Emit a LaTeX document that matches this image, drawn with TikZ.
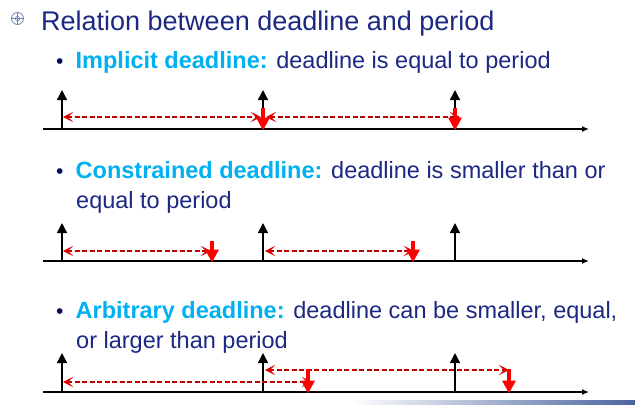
\documentclass[tikz,border=0pt]{standalone}
\usepackage{fontspec}
\setmainfont{Liberation Sans}
\usetikzlibrary{arrows.meta}
\definecolor{navy}{RGB}{28,40,130}
\definecolor{bulnavy}{RGB}{10,10,90}
\definecolor{cyanhl}{RGB}{0,176,240}
\definecolor{dred}{RGB}{192,0,0}
\definecolor{bred}{RGB}{255,0,0}
\definecolor{barblue}{RGB}{74,100,160}
\definecolor{iconblue}{RGB}{110,130,185}
\tikzset{
 txt/.style={inner sep=0pt, anchor=base west, text=navy, font=\fontsize{23.5}{30}\selectfont},
 ttl/.style={inner sep=0pt, anchor=base west, text=navy, font=\fontsize{27}{32}\selectfont},
 bul/.style={inner sep=0pt, anchor=base, text=bulnavy, font=\fontsize{21}{30}\selectfont},
 axisline/.style={line width=1.3pt, -{Latex[length=7pt,width=6pt]}},
 rel/.style={line width=1.4pt, -{Triangle[length=10pt,width=10pt]}},
 dl/.style={line width=3.5pt, bred, -{Triangle[length=13pt,width=13pt]}},
 spanarrow/.style={line width=2pt, dred, dash pattern=on 5pt off 2.5pt,
   {Stealth[length=10pt,width=10pt,inset=5pt,color=red!85!black]}-{Stealth[length=10pt,width=10pt,inset=5pt,color=red!85!black]}},
}
\newcommand{\hlt}[1]{{\bfseries\color{cyanhl}#1}}
\begin{document}
\begin{tikzpicture}[x=1pt,y=-1pt]
\useasboundingbox (0,0) rectangle (635,407);
% icon
\node[circle, draw=iconblue, line width=0.8pt, minimum size=12pt, inner sep=0pt] (icon) at (17.5,18.5) {};
\draw[iconblue, line width=0.6pt] (icon.center) circle (2.2pt);
\draw[iconblue, line width=0.6pt] (icon.north) -- (icon.south) (icon.west) -- (icon.east);
% title and texts
\node[ttl] (title) at (41,30) {Relation between deadline and period};
\node[bul] (b1) at (59.7,68) {•};
\node[txt] (t1) at (75.5,68) {\hlt{Implicit deadline:} deadline is equal to period};
\node[bul] (b2) at (59.7,178) {•};
\node[txt] (t2) at (75.5,178) {\hlt{Constrained deadline:} deadline is smaller than or};
\node[txt] (t2b) at (76,208) {equal to period};
\node[bul] (b3) at (59.7,318) {•};
\node[txt] (t3) at (75.5,318) {\hlt{Arbitrary deadline:} deadline can be smaller, equal,};
\node[txt] (t3b) at (76,348) {or larger than period};

% ---------- timeline 1
\coordinate (a1s) at (43,129); \coordinate (a1e) at (589,129);
\coordinate (r11) at (62,129); \coordinate (r11t) at (62,90);
\coordinate (r12) at (263,129); \coordinate (r12t) at (263,90);
\coordinate (r13) at (455,129); \coordinate (r13t) at (455,90);
\coordinate (d11t) at (263,108); \coordinate (d11) at (263,130.5);
\coordinate (d12t) at (455,108); \coordinate (d12) at (455,130.5);
\coordinate (s11a) at (63,117); \coordinate (s11b) at (261,117);
\coordinate (s12a) at (266,117); \coordinate (s12b) at (460,117);
\draw[axisline] (a1s) -- (a1e);
\draw[rel] (r11) -- (r11t);
\draw[rel] (r12) -- (r12t);
\draw[rel] (r13) -- (r13t);
\draw[spanarrow] (s11a) -- (s11b);
\draw[spanarrow] (s12a) -- (s12b);
\draw[dl] (d11t) -- (d11);
\draw[dl] (d12t) -- (d12);

% ---------- timeline 2
\coordinate (a2s) at (43,261); \coordinate (a2e) at (589,261);
\coordinate (r21) at (62,261); \coordinate (r21t) at (62,223);
\coordinate (r22) at (263,261); \coordinate (r22t) at (263,223);
\coordinate (r23) at (455,261); \coordinate (r23t) at (455,223);
\coordinate (d21t) at (212,241); \coordinate (d21) at (212,262.5);
\coordinate (d22t) at (413,241); \coordinate (d22) at (413,262.5);
\coordinate (s21a) at (63,251); \coordinate (s21b) at (211,251);
\coordinate (s22a) at (265,251); \coordinate (s22b) at (414,251);
\draw[axisline] (a2s) -- (a2e);
\draw[rel] (r21) -- (r21t);
\draw[rel] (r22) -- (r22t);
\draw[rel] (r23) -- (r23t);
\draw[spanarrow] (s21a) -- (s21b);
\draw[spanarrow] (s22a) -- (s22b);
\draw[dl] (d21t) -- (d21);
\draw[dl] (d22t) -- (d22);

% ---------- timeline 3
\coordinate (a3s) at (43,392); \coordinate (a3e) at (589,392);
\coordinate (r31) at (62,392); \coordinate (r31t) at (62,353);
\coordinate (r32) at (263,392); \coordinate (r32t) at (263,353);
\coordinate (r33) at (455,392); \coordinate (r33t) at (455,353);
\coordinate (d31t) at (308,369); \coordinate (d31) at (308,393.5);
\coordinate (d32t) at (509,369); \coordinate (d32) at (509,393.5);
\coordinate (s31a) at (63,382); \coordinate (s31b) at (312,382);
\coordinate (s32a) at (265,370); \coordinate (s32b) at (509,370);
\draw[axisline] (a3s) -- (a3e);
\draw[rel] (r31) -- (r31t);
\draw[rel] (r32) -- (r32t);
\draw[rel] (r33) -- (r33t);
\draw[spanarrow] (s31a) -- (s31b);
\draw[spanarrow] (s32a) -- (s32b);
\draw[dl] (d31t) -- (d31);
\draw[dl] (d32t) -- (d32);

% bottom bar
\shade[left color=white, right color=barblue] (350,400) rectangle (635,404);
\end{tikzpicture}
\end{document}
